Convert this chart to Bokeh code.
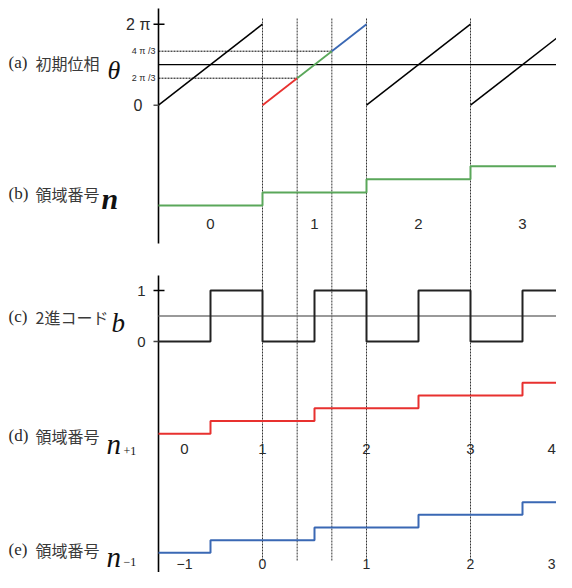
import numpy as np
from bokeh.plotting import figure
from bokeh.models import Range1d
from bokeh.core.properties import value
from bokeh.embed import file_html
from bokeh.resources import INLINE

# ---------------- data ----------------
TWO_PI = 2 * np.pi
black_ramp_t0 = [0, 2, 3]          # periods drawn in black
black_ramp_t1 = [1, 3, 4]
ramp_theta0 = 0.0
ramp_theta1 = TWO_PI
split_t = [1, 4 / 3, 5 / 3, 2]      # coloured ramp in period 1
split_theta = [0, TWO_PI / 3, 2 * TWO_PI / 3, TWO_PI]
seg_colors = ["#e8312f", "#5aa75a", "#3a68b4"]
threshold_theta = [2 * TWO_PI / 3, TWO_PI / 3]
threshold_end_t = [5 / 3, 4 / 3]
threshold_labels = ["4 π /3", "2 π /3"]
mid_theta = np.pi
theta_ticks = [TWO_PI, 0]
theta_tick_labels = ["2 π", "0"]

region_edges = [0, 1, 2, 3, 4]
region_n = [0, 1, 2, 3]
region_label_t = [0.5, 1.5, 2.5, 3.5]

bit_edges = [0, 0.5, 1, 1.5, 2, 2.5, 3, 3.5, 4]
bits = [0, 1, 0, 1, 0, 1, 0, 1]
bit_mid = 0.5
bit_ticks = [1, 0]
bit_tick_labels = ["1", "0"]

shift_edges = [0, 0.5, 1.5, 2.5, 3.5, 4]
n_plus = [0, 1, 2, 3, 4]
n_minus = [-1, 0, 1, 2, 3]
shift_label_t = [0.25, 1, 2, 3, 3.78]
n_plus_labels = ["0", "1", "2", "3", "4"]
n_minus_labels = ["−1", "0", "1", "2", "3"]

dash_t = [1, 4 / 3, 5 / 3, 2, 3]

# ---------------- layout ----------------
W, H = 556, 572
PX0, PX1, PY0, PY1 = 0, W, 0, H   # screen area covered by the canvas


def rng(p0, v0, p1, v1, lo, hi):
    s = (v1 - v0) / (p1 - p0)
    return Range1d(start=v0 + (lo - p0) * s, end=v0 + (hi - p0) * s)


p = figure(width=W, height=H, output_backend="svg", toolbar_location=None,
           x_range=Range1d(PX0, PX1), y_range=Range1d(PY1, PY0),
           x_axis_location=None, y_axis_location=None, min_border=0)
p.outline_line_color = None
p.grid.visible = False
p.background_fill_color = "white"

p.extra_x_ranges = {"t": rng(158, 0, 262, 1, PX0, PX1)}
p.extra_y_ranges = {
    "a": rng(104.7, 0, 23.7, TWO_PI, PY1, PY0),
    "b": rng(205, 0, 165.7, 3, PY1, PY0),
    "c": rng(341, 0, 290, 1, PY1, PY0),
    "d": rng(433.3, 0, 382.3, 4, PY1, PY0),
    "e": rng(552.3, -1, 501.7, 3, PY1, PY0),
}

DASH_COL = "#333333"
TXT = "#2a2a2a"

# vertical dashed guide lines
p.segment(x0=dash_t, x1=dash_t, y0=[18] * len(dash_t), y1=[560] * len(dash_t),
          x_range_name="t", line_color=DASH_COL, line_width=1, line_dash="2 1")

# axes
p.segment(x0=[0, 0], x1=[0, 0], y0=[8, 275], y1=[243, 586], x_range_name="t",
          line_color="black", line_width=1.6)

# ---- panel (a) ----
p.segment(x0=[0] * 2, x1=threshold_end_t, y0=threshold_theta, y1=threshold_theta,
          x_range_name="t", y_range_name="a", line_color="black", line_width=1,
          line_dash="2 1")
p.segment(x0=[0], x1=[4], y0=[mid_theta], y1=[mid_theta], x_range_name="t",
          y_range_name="a", line_color="black", line_width=1.3)
p.segment(x0=black_ramp_t0, x1=black_ramp_t1, y0=[ramp_theta0] * 3,
          y1=[ramp_theta1] * 3, x_range_name="t", y_range_name="a",
          line_color="black", line_width=1.5)
p.segment(x0=split_t[:-1], x1=split_t[1:], y0=split_theta[:-1], y1=split_theta[1:],
          x_range_name="t", y_range_name="a", line_color=seg_colors, line_width=1.8)
p.segment(x0=[153, 153], x1=[164, 158], y0=theta_ticks, y1=theta_ticks,
          y_range_name="a", line_color=["black", "#555555"], line_width=1.5)
p.text(x=[150, 142], y=theta_ticks, text=theta_tick_labels, y_range_name="a",
       text_font=value("Liberation Sans"), text_font_size=value("16px"),
       text_align="right", text_baseline="middle", text_color=TXT)
p.text(x=[155, 155], y=threshold_theta, text=threshold_labels, y_range_name="a",
       text_font=value("Liberation Sans"), text_font_size=value("9px"),
       text_align="right", text_baseline="middle", text_color=TXT)

# ---- panel (b) ----
p.step(x=region_edges, y=region_n + [region_n[-1]], mode="after", x_range_name="t",
       y_range_name="b", line_color="#5aa75a", line_width=2)
p.text(x=region_label_t, y=[223] * 4, text=[str(v) for v in region_n],
       x_range_name="t", text_font=value("Liberation Sans"),
       text_font_size=value("15px"), text_align="center", text_baseline="middle",
       text_color=TXT)

# ---- panel (c) ----
p.segment(x0=[0], x1=[4], y0=[bit_mid], y1=[bit_mid], x_range_name="t",
          y_range_name="c", line_color="#777777", line_width=1.6)
p.step(x=bit_edges, y=bits + [bits[-1]], mode="after", x_range_name="t",
       y_range_name="c", line_color="#222222", line_width=2)
p.segment(x0=[153, 153], x1=[164, 158], y0=bit_ticks, y1=bit_ticks,
          y_range_name="c", line_color=["black", "#444444"], line_width=1.5)
p.text(x=[145, 145], y=bit_ticks, text=bit_tick_labels, y_range_name="c",
       text_font=value("Liberation Sans"), text_font_size=value("15px"),
       text_align="right", text_baseline="middle", text_color=TXT)

# ---- panel (d) ----
p.step(x=shift_edges, y=n_plus + [n_plus[-1]], mode="after", x_range_name="t",
       y_range_name="d", line_color="#e8312f", line_width=2)
p.text(x=shift_label_t, y=[448] * 5, text=n_plus_labels, x_range_name="t",
       text_font=value("Liberation Sans"), text_font_size=value("15px"),
       text_align="center", text_baseline="middle", text_color=TXT)

# ---- panel (e) ----
p.step(x=shift_edges, y=n_minus + [n_minus[-1]], mode="after", x_range_name="t",
       y_range_name="e", line_color="#3a68b4", line_width=2)
p.text(x=shift_label_t, y=[563] * 5, text=n_minus_labels, x_range_name="t",
       text_font=value("Liberation Sans"), text_font_size=value("14px"),
       text_align="center", text_baseline="middle", text_color=TXT)

# ---- row titles ----
row_y = [62, 193, 316, 435, 549]
row_tags = ["(a)", "(b)", "(c)", "(d)", "(e)"]
row_names = ["初期位相", "領域番号", "2進コード", "領域番号", "領域番号"]
p.text(x=[8] * 5, y=row_y, text=row_tags, text_font=value("Liberation Serif"),
       text_font_size=value("17px"), text_align="left", text_baseline="middle",
       text_color=TXT)
p.text(x=[35] * 5, y=row_y, text=row_names, text_font=value("Noto Sans CJK JP"),
       text_font_size=value("16px"), text_align="left", text_baseline="middle",
       text_color="#3a3a3a")

# symbols
p.text(x=[107], y=[70], text=["θ"], text_font=value("Liberation Serif"),
       text_font_style="italic", text_font_size=value("26px"),
       text_baseline="alphabetic", text_color="#111111")
p.text(x=[101], y=[198], text=["n"], text_font=value("Liberation Serif"),
       text_font_style="bold italic", text_font_size=value("30px"),
       text_baseline="alphabetic", text_color="#111111")
p.text(x=[111], y=[322], text=["b"], text_font=value("Liberation Serif"),
       text_font_style="italic", text_font_size=value("27px"),
       text_baseline="alphabetic", text_color="#111111")
p.text(x=[106, 106], y=[443, 556], text=["n", "n"], text_font=value("Liberation Serif"),
       text_font_style="italic", text_font_size=value("29px"),
       text_baseline="alphabetic", text_color="#111111")
p.text(x=[123, 123], y=[450, 561], text=["+1", "−1"], text_font=value("Liberation Serif"),
       text_font_size=value("12px"), text_baseline="alphabetic", text_color="#111111")

open("out.html", "w").write(file_html(p, INLINE))
